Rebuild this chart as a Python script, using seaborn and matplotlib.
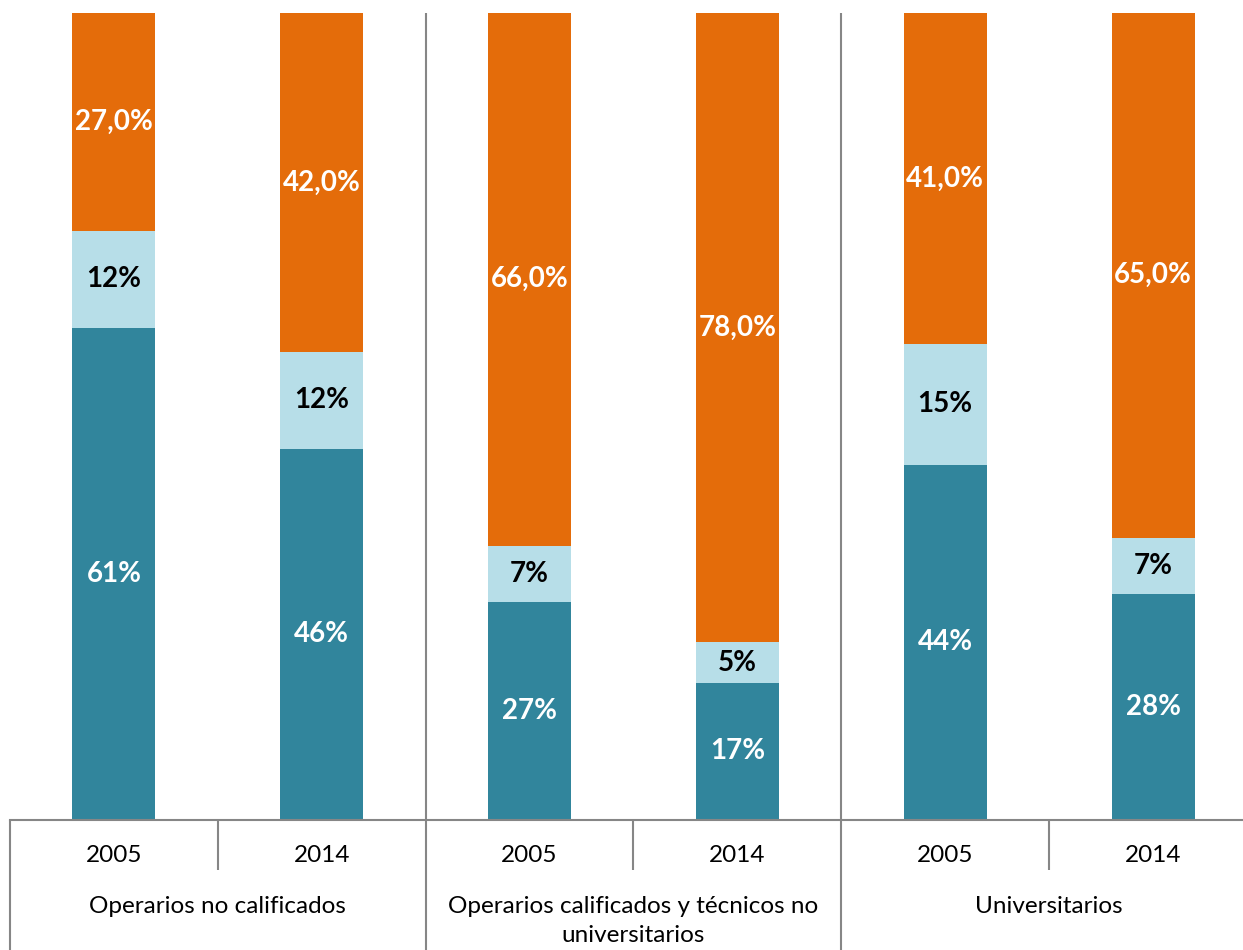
import matplotlib
matplotlib.use("Agg")
import matplotlib.pyplot as plt
import seaborn as sns
import pandas as pd
import numpy as np

# ---- data ----
groups = ["Operarios no calificados",
          "Operarios calificados y técnicos no\nuniversitarios",
          "Universitarios"]
years = ["2005", "2014"]
teal_vals = [61, 46, 27, 17, 44, 28]
light_vals = [12, 12, 7, 5, 15, 7]
orange_vals = [27.0, 42.0, 66.0, 78.0, 41.0, 65.0]

teal_c = "#31859C"
light_c = "#B7DEE8"
orange_c = "#E46C0A"
line_c = "#868686"

sns.set_style("white")
plt.rcParams["font.family"] = ["Lato", "DejaVu Sans"]

bars = [f"{g} {y}" for g in groups for y in years]
df = pd.DataFrame({
    "bar": bars,
    "teal": teal_vals,
    "light": light_vals,
    "orange": orange_vals,
})
df["cum_light"] = df["teal"] + df["light"]
df["cum_total"] = df["cum_light"] + df["orange"]

W, H = 1243, 950
fig = plt.figure(figsize=(W / 100, H / 100), dpi=100)
left, right, top, bottom = 10, 1257, 13, 820
ax = fig.add_axes([left / W, (H - bottom) / H, (right - left) / W, (bottom - top) / H])

bw = 0.4
sns.barplot(data=df, x="bar", y="cum_total", color=orange_c, saturation=1,
            width=bw, errorbar=None, ax=ax, linewidth=0)
sns.barplot(data=df, x="bar", y="cum_light", color=light_c, saturation=1,
            width=bw, errorbar=None, ax=ax, linewidth=0)
sns.barplot(data=df, x="bar", y="teal", color=teal_c, saturation=1,
            width=bw, errorbar=None, ax=ax, linewidth=0)

ax.set_xlim(-0.5, len(bars) - 0.5)
ax.set_ylim(0, 100)
ax.set_xlabel("")
ax.set_ylabel("")
ax.set_yticks([])
ax.set_xticks(range(len(bars)))
ax.set_xticklabels([])
ax.tick_params(axis="x", length=0)
for s in ["left", "right", "top"]:
    ax.spines[s].set_visible(False)
ax.spines["bottom"].set_color(line_c)
ax.spines["bottom"].set_linewidth(1.5)

# segment labels
fs_b = 20
for i in range(len(bars)):
    t, l, o = teal_vals[i], light_vals[i], orange_vals[i]
    ax.text(i, t / 2, f"{t}%", ha="center", va="center", color="white",
            fontsize=fs_b, fontweight="bold")
    ax.text(i, t + l / 2, f"{l}%", ha="center", va="center", color="black",
            fontsize=fs_b, fontweight="bold")
    ax.text(i, t + l + o / 2, f"{o:.1f}%".replace(".", ","), ha="center",
            va="center", color="white", fontsize=fs_b, fontweight="bold")

# category axis lines and labels
fs = 17.5
tr = ax.get_xaxis_transform()
ph = bottom - top
low = -(H - bottom) / ph
tick_low = -50 / ph
ngroups = len(groups)
for gi in range(ngroups):
    xb = gi * 2 - 0.5
    ytop = 1.0 if gi > 0 else 0.0
    ax.plot([xb, xb], [low, ytop], transform=tr, color=line_c, lw=1.5,
            clip_on=False, solid_capstyle="butt")
    ax.plot([gi * 2 + 0.5] * 2, [0, tick_low], transform=tr, color=line_c,
            lw=1.5, clip_on=False, solid_capstyle="butt")
    for yi, yr in enumerate(years):
        ax.text(gi * 2 + yi, -36 / ph, yr, transform=tr, ha="center",
                va="center", fontsize=fs, color="black")
    ax.text(gi * 2 + 0.5, -(896 - bottom) / ph, groups[gi], transform=tr,
            ha="center", va="top", fontsize=fs, color="black",
            linespacing=1.45)

fig.savefig("out.png", dpi=100)
